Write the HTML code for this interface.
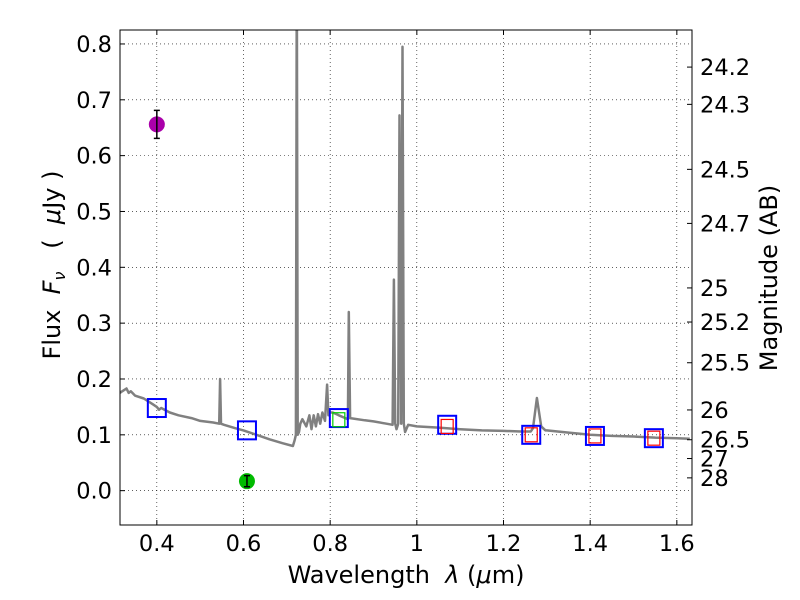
<!DOCTYPE html>
<html><head><meta charset="utf-8"><style>
body{margin:0;background:#fff}
svg{display:block;font-family:"DejaVu Sans","Liberation Sans",sans-serif}
.pre{white-space:pre}
</style></head><body>
<svg id="c" width="800" height="600" viewBox="0 0 800 600">
<rect width="800" height="600" fill="#fff"/>
<g id="grid"></g><g id="marks"></g><g id="axes"></g>
</svg>
<script>
const xTicks=[0.4,0.6,0.8,1,1.2,1.4,1.6];
const xTickLabels=["0.4","0.6","0.8","1","1.2","1.4","1.6"];
const yTicks=[0,0.1,0.2,0.3,0.4,0.5,0.6,0.7,0.8];
const yTickLabels=["0.0","0.1","0.2","0.3","0.4","0.5","0.6","0.7","0.8"];
const magTicks=[24.2,24.3,24.5,24.7,25,25.2,25.5,26,26.5,27,28];
const specWave=[0.315,0.32,0.33,0.335,0.34,0.35,0.37,0.39,0.4,0.405,0.41,0.43,0.45,0.48,0.5,0.53,0.544,0.546,0.548,0.555,0.58,0.6,0.63,0.66,0.69,0.714,0.718,0.721,0.723,0.725,0.728,0.731,0.736,0.745,0.752,0.757,0.762,0.767,0.772,0.777,0.782,0.788,0.793,0.796,0.799,0.806,0.82,0.835,0.841,0.843,0.846,0.88,0.9,0.93,0.944,0.947,0.95,0.953,0.957,0.960,0.964,0.967,0.970,0.973,0.98,1.0,1.05,1.1,1.15,1.2,1.24,1.263,1.268,1.277,1.287,1.297,1.3,1.35,1.4,1.45,1.5,1.55,1.6,1.63];
const specFlux=[0.175,0.178,0.183,0.175,0.178,0.17,0.165,0.155,0.15,0.145,0.148,0.14,0.135,0.13,0.125,0.122,0.12,0.2,0.12,0.118,0.112,0.108,0.1,0.092,0.085,0.08,0.09,0.1,0.95,0.1,0.105,0.12,0.128,0.115,0.135,0.11,0.135,0.115,0.137,0.12,0.14,0.125,0.19,0.135,0.14,0.14,0.135,0.13,0.128,0.32,0.13,0.126,0.124,0.12,0.118,0.378,0.12,0.11,0.12,0.672,0.12,0.795,0.12,0.105,0.118,0.115,0.113,0.11,0.108,0.107,0.106,0.106,0.112,0.166,0.115,0.108,0.108,0.104,0.1,0.098,0.097,0.095,0.094,0.093];
const photWave=[0.400,0.608,0.820,1.070,1.264,1.411,1.547];
const photFlux=[0.148,0.108,0.13,0.118,0.10,0.098,0.094];
const redWave=[1.070,1.264,1.411,1.547];
const redFlux=[0.115,0.10,0.098,0.094];
const greenBoxWave=[0.820];
const greenBoxFlux=[0.127];
const ptWave=[0.400,0.608];
const ptFlux=[0.656,0.017];
const ptErr=[0.025,0.01];
const ptColor=["#aa00aa","#00bb00"];

const L=120,R=692,T=30,B=525,X0=0.315,X1=1.635,Y0=-0.0615,Y1=0.825;
const sx=v=>L+(v-X0)/(X1-X0)*(R-L);
const sy=v=>B-(v-Y0)/(Y1-Y0)*(B-T);
const NS="http://www.w3.org/2000/svg";
function mk(p,t,a){const e=document.createElementNS(NS,t);for(const k in a)e.setAttribute(k,a[k]);p.appendChild(e);return e;}
const grid=document.getElementById('grid'),marks=document.getElementById('marks'),axes=document.getElementById('axes');
xTicks.forEach((v,i)=>{const x=sx(v);
 let g=mk(grid,'line',{x1:x,x2:x,y1:T,y2:B,stroke:'#000','stroke-width':0.6,'stroke-dasharray':'1,3'});
 
 mk(axes,'line',{x1:x,x2:x,y1:B,y2:B-5,stroke:'#000'});mk(axes,'line',{x1:x,x2:x,y1:T,y2:T+5,stroke:'#000'});
 let t=mk(axes,'text',{x:x,y:B+26,'font-size':22.5,'text-anchor':'middle'});t.textContent=xTickLabels[i];
 });
yTicks.forEach((v,i)=>{const y=sy(v);
 let g=mk(grid,'line',{x1:L,x2:R,y1:y,y2:y,stroke:'#000','stroke-width':0.6,'stroke-dasharray':'1,3'});
 
 mk(axes,'line',{x1:L,x2:L+5,y1:y,y2:y,stroke:'#000'});
 let t=mk(axes,'text',{x:L-8,y:y+8,'font-size':22.5,'text-anchor':'end'});t.textContent=yTickLabels[i];
 });
magTicks.forEach(m=>{const f=Math.pow(10,(8.9-m)/2.5)*1e6;const y=sy(f);
 mk(axes,'line',{x1:R-5,x2:R,y1:y,y2:y,stroke:'#000'});
 let t=mk(axes,'text',{x:R+8,y:y+8,'font-size':22.5});t.textContent=String(m);
 });
let d=specWave.map((w,i)=>(i?'L':'M')+sx(w).toFixed(1)+','+sy(specFlux[i]).toFixed(1)).join('');
let cp=mk(marks,'clipPath',{id:'cl'});mk(cp,'rect',{x:L,y:T,width:R-L,height:B-T});
let sp=mk(marks,'path',{d:d,fill:'none',stroke:'#808080','stroke-width':2.5,'clip-path':'url(#cl)','stroke-linejoin':'round'});

photWave.forEach((w,i)=>{let r=mk(marks,'rect',{x:sx(w)-9,y:sy(photFlux[i])-9,width:18,height:18,fill:'none',stroke:'#0000ff','stroke-width':2});
 });
redWave.forEach((w,i)=>{let r=mk(marks,'rect',{x:sx(w)-6,y:sy(redFlux[i])-7,width:12,height:14,fill:'none',stroke:'#ff0000','stroke-width':1.2});
 });
greenBoxWave.forEach((w,i)=>{let r=mk(marks,'rect',{x:sx(w)-6,y:sy(greenBoxFlux[i])-7,width:12,height:14,fill:'none',stroke:'#00cc00','stroke-width':1.2});
 });
ptWave.forEach((w,i)=>{const x=sx(w),y=sy(ptFlux[i]);
 let c=mk(marks,'circle',{cx:x,cy:y,r:8,fill:ptColor[i]});
 
 const y1=sy(ptFlux[i]+ptErr[i]),y2=sy(ptFlux[i]-ptErr[i]);
 let e=mk(marks,'path',{d:`M${x},${y1}L${x},${y2}M${x-3},${y1}L${x+3},${y1}M${x-3},${y2}L${x+3},${y2}`,stroke:'#000','stroke-width':1.5,fill:'none'});
 });
let fr=mk(axes,'rect',{x:L,y:T,width:R-L,height:B-T,fill:'none',stroke:'#000','stroke-width':1});

let xl=mk(axes,'text',{x:406,y:583,'font-size':24,'text-anchor':'middle','class':'pre'});xl.innerHTML='Wavelength  <tspan font-style="italic">λ</tspan> (<tspan font-style="italic">μ</tspan>m)';

let yl=mk(axes,'text',{x:60,y:265,'font-size':24,'text-anchor':'middle',transform:'rotate(-90 60 265)','class':'pre'});yl.innerHTML='Flux  <tspan font-style="italic">F</tspan><tspan font-style="italic" font-size="16" dy="5">ν</tspan><tspan dy="-5">   (  </tspan><tspan font-style="italic">μ</tspan>Jy )';

let ml=mk(axes,'text',{x:777,y:278,'font-size':24,'text-anchor':'middle',transform:'rotate(-90 777 278)'});ml.textContent='Magnitude (AB)';

</script>
</body></html>
